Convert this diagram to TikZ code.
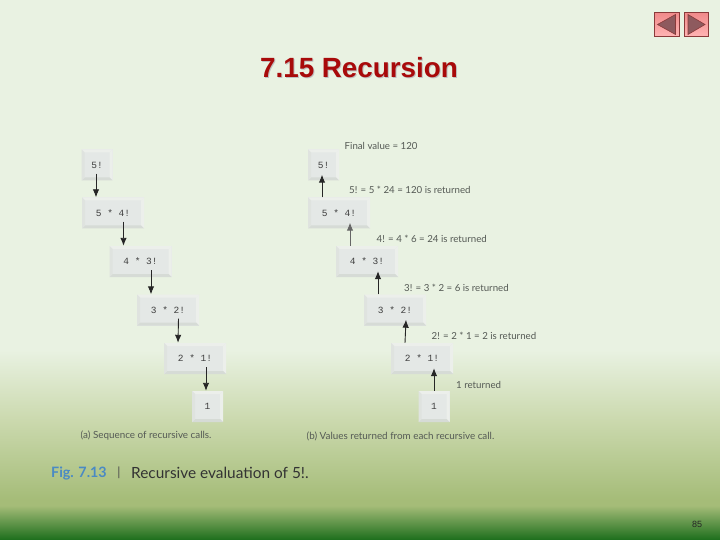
\documentclass[tikz,border=0pt]{standalone}
\usepackage{fontspec}
\setmainfont{Liberation Sans}
\newfontfamily\labfont{Lato}
\newfontfamily\monfont{Liberation Mono}
\usetikzlibrary{arrows.meta,calc}
\definecolor{bgtop}{HTML}{E9F2E2}
\definecolor{bgmid}{HTML}{CBD9AE}
\definecolor{bglow}{HTML}{A5BC78}
\definecolor{bgdark}{HTML}{1C6E1C}
\definecolor{boxfill}{HTML}{E4E8E6}
\definecolor{boxhi}{HTML}{ECEFEB}
\definecolor{boxlo}{HTML}{D6DBD6}
\definecolor{boxside}{HTML}{DFE3DF}
\definecolor{labgray}{HTML}{555A55}
\definecolor{titlered}{HTML}{A80A0A}
\definecolor{figblue}{HTML}{4A8AC4}
\definecolor{btnline}{HTML}{8A3A3A}
\definecolor{btntop}{HTML}{F08A8A}
\definecolor{btnbot}{HTML}{FFB4B4}
\definecolor{btntri}{HTML}{8E5A5E}
\pgfdeclareverticalshading{slidebg}{100bp}{color(0bp)=(bgdark); color(25bp)=(bgdark); color(28.2bp)=(bglow); color(28.7bp)=(bglow); color(36.1bp)=(bgmid); color(42.6bp)=(bgtop); color(100bp)=(bgtop)}
\tikzset{
  x=1pt,y=-1pt,
  stack/.style={minimum height=31pt,inner sep=0pt,fill=boxfill,text=black!75,
    font=\monfont\fontsize{9.5}{11}\selectfont,
    path picture={
      \fill[boxhi] (path picture bounding box.north west) -- (path picture bounding box.north east)
        -- ([shift={(-3pt,-3pt)}]path picture bounding box.north east) -- ([shift={(3pt,-3pt)}]path picture bounding box.north west) -- cycle;
      \fill[boxhi] (path picture bounding box.north east) -- (path picture bounding box.south east)
        -- ([shift={(-3pt,3pt)}]path picture bounding box.south east) -- ([shift={(-3pt,-3pt)}]path picture bounding box.north east) -- cycle;
      \fill[boxlo] (path picture bounding box.south west) -- (path picture bounding box.south east)
        -- ([shift={(-3pt,3pt)}]path picture bounding box.south east) -- ([shift={(3pt,3pt)}]path picture bounding box.south west) -- cycle;
      \fill[boxside] (path picture bounding box.north west) -- (path picture bounding box.south west)
        -- ([shift={(3pt,3pt)}]path picture bounding box.south west) -- ([shift={(3pt,-3pt)}]path picture bounding box.north west) -- cycle;
    }},
  wide/.style={stack,minimum width=62pt},
  narrow/.style={stack,minimum width=31pt},
  call/.style={-{Latex[length=8pt,width=6.5pt]},line width=0.9pt,draw=black!85},
  lab/.style={font=\labfont\fontsize{9.7}{11}\selectfont,text=labgray,anchor=west,inner sep=0pt},
  caplab/.style={lab,font=\labfont\fontsize{9.85}{11}\selectfont},
  navbtn/.style={draw=btnline,line width=1pt,top color=btntop,bottom color=btnbot},
  navtri/.style={fill=btntri,draw=btnline,line width=0.6pt}
}
\begin{document}
\begin{tikzpicture}
\useasboundingbox (0,0) rectangle (720,540);
\shade[shading=slidebg] (0,0) rectangle (720,540);
% title
\node[font=\bfseries\fontsize{27.8}{32}\selectfont,text=black!25,inner sep=0pt] (titleshadow) at (360,68.4) {7.15 Recursion};
\node[font=\bfseries\fontsize{27.8}{32}\selectfont,text=titlered,inner sep=0pt] (title) at (359,67.4) {7.15 Recursion};
% nav buttons
\path[navbtn] (654.5,12.5) rectangle (679,36.5);
\path[navbtn] (684.5,12.5) rectangle (708.5,36.5);
\path[navtri] (657.5,24.5) -- (675.5,14.5) -- (675.5,34.5) -- cycle;
\path[navtri] (688,14.5) -- (705,24.5) -- (688,34.5) -- cycle;
% left column
\node[narrow] (a1) at (97,165) {5!};
\node[wide] (a2) at (113,213) {5 * 4!};
\node[wide] (a3) at (140.5,261.5) {4 * 3!};
\node[wide] (a4) at (168,310) {3 * 2!};
\node[wide] (a5) at (195,358.5) {2 * 1!};
\node[narrow] (a6) at (207.5,406.5) {1};
\draw[call] ([shift={(-1pt,7pt)}]a1.south) -- ([xshift=-1pt]a1.south |- a2.north);
\draw[call] ([shift={(10.5pt,7pt)}]a2.south) -- ([xshift=-17pt]a3.north);
\draw[call] ([shift={(10.5pt,7pt)}]a3.south) -- ([xshift=-17pt]a4.north);
\draw[call] ([shift={(10.5pt,7pt)}]a4.south) -- ([xshift=-17pt]a5.north);
\draw[call] ([shift={(11pt,7pt)}]a5.south) -- ([xshift=-1.5pt]a6.north);
% right column
\node[narrow] (b1) at (323.5,165) {5!};
\node[wide] (b2) at (339,213) {5 * 4!};
\node[wide] (b3) at (367,261.5) {4 * 3!};
\node[wide] (b4) at (395,310) {3 * 2!};
\node[wide] (b5) at (422,358.5) {2 * 1!};
\node[narrow] (b6) at (434,406.5) {1};
\draw[call] ([xshift=-17pt]b2.north) -- ([shift={(-1.5pt,6pt)}]b1.south);
\draw[call,draw=black!60] ([xshift=-17pt]b3.north) -- ([shift={(11pt,6pt)}]b2.south);
\draw[call] ([xshift=-17pt]b4.north) -- ([shift={(11pt,6pt)}]b3.south);
\draw[call] ([xshift=-17pt]b5.north) -- ([shift={(11pt,6pt)}]b4.south);
\draw[call] (b6.north) -- ([shift={(12pt,6pt)}]b5.south);
% labels
\node[lab] (l0) at (344.5,145.5) {Final value = 120};
\node[lab] (l1) at (349,189.5) {5! = 5 * 24 = 120 is returned};
\node[lab] (l2) at (376.5,238.5) {4! = 4 * 6 = 24 is returned};
\node[lab] (l3) at (404,287.5) {3! = 3 * 2 = 6 is returned};
\node[lab] (l4) at (431.5,336) {2! = 2 * 1 = 2 is returned};
\node[lab] (l5) at (456,384.5) {1 returned};
\node[caplab] (c1) at (80.5,436) {(a) Sequence of recursive calls.};
\node[caplab] (c2) at (306.5,436) {(b) Values returned from each recursive call.};
% figure caption
\node[font=\labfont\bfseries\fontsize{14.3}{17}\selectfont,text=figblue,anchor=west,inner sep=0pt] (figno) at (51,473) {Fig. 7.13};
\node[font=\labfont\fontsize{12.5}{15}\selectfont,text=black!70,inner sep=0pt] (figbar) at (119,472.5) {|};
\node[font=\labfont\fontsize{15.4}{18}\selectfont,text=black!80,anchor=west,inner sep=0pt] (figcap) at (131,472.5) {Recursive evaluation of 5!.};
% page number
\node[font=\fontsize{9}{11}\selectfont,text=black!85,inner sep=0pt] (page) at (697,524.5) {85};
\end{tikzpicture}
\end{document}
